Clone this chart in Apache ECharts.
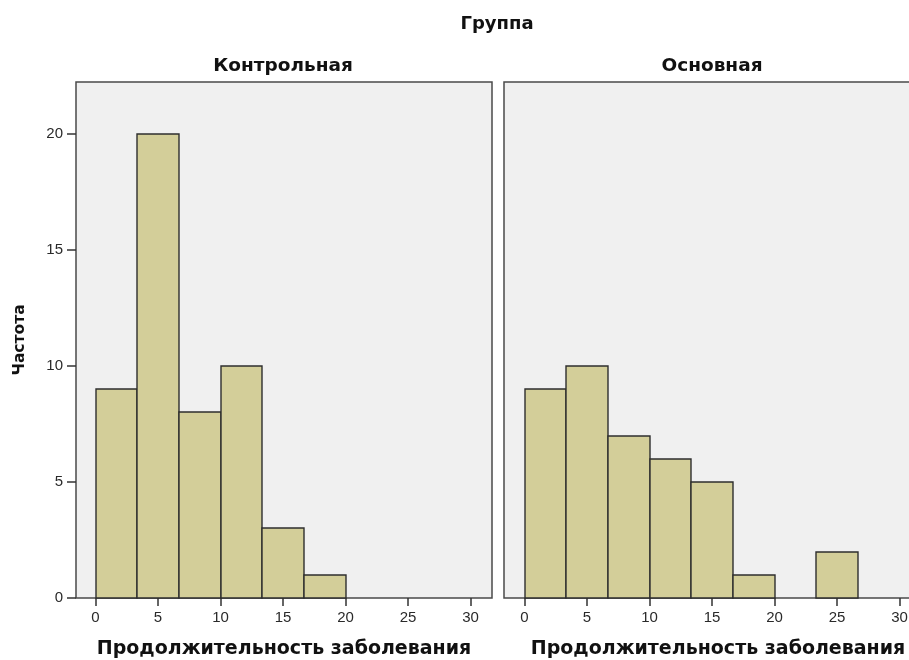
<!DOCTYPE html>
<html>
<head>
<meta charset="utf-8">
<script src="https://cdn.jsdelivr.net/npm/echarts@6/dist/echarts.min.js"></script>
<style>
  html, body { margin: 0; padding: 0; background: #ffffff; }
  #chart { width: 909px; height: 660px; }
</style>
</head>
<body>
<div id="chart"></div>
<script>
// Histogram bins of illness duration (days), shared by both groups
const binStart = [0, 3.33, 6.67, 10, 13.33, 16.67, 20, 23.33];
const binEnd   = [3.33, 6.67, 10, 13.33, 16.67, 20, 23.33, 26.67];

// Frequencies per bin
const controlCounts = [9, 20, 8, 10, 3, 1, 0, 0];
const mainCounts    = [9, 10, 7, 6, 5, 1, 0, 2];

const groupNames = ['Контрольная', 'Основная'];
const xTicks = [0, 5, 10, 15, 20, 25, 30];
const yTicks = [0, 5, 10, 15, 20];

const FONT = 'DejaVu Sans';
const LABEL_FONT = 'Liberation Sans';
const BAR_FILL = '#d3ce99';
const BAR_EDGE = '#2e2e2e';
const FRAME = '#4a4a4a';
const PANEL_BG = '#f0f0f0';

function binData(counts) {
  const out = [];
  for (let i = 0; i < counts.length; i++) {
    if (counts[i] > 0) out.push([binStart[i], binEnd[i], counts[i]]);
  }
  return out;
}

function renderBin(params, api) {
  const a = api.coord([api.value(0), 0]);
  const b = api.coord([api.value(1), api.value(2)]);
  const x = Math.round(a[0]);
  const y = Math.round(b[1]);
  const w = Math.round(b[0]) - Math.round(a[0]);
  const h = Math.round(a[1]) - Math.round(b[1]);
  return {
    type: 'rect',
    shape: { x: x, y: y, width: w, height: h },
    style: { fill: BAR_FILL, stroke: BAR_EDGE, lineWidth: 1.4 }
  };
}

const grids = [
  { left: 76, top: 82, width: 416, height: 516 },
  { left: 504, top: 82, width: 416, height: 516 }
].map(g => Object.assign(g, {
  show: true, backgroundColor: PANEL_BG, borderColor: FRAME, borderWidth: 1.5,
  containLabel: false, outerBoundsMode: 'none'
}));

const xRanges = [[-1.56, 31.72], [-1.64, 31.64]];

const xAxes = xRanges.map((r, i) => ({
  type: 'value',
  gridIndex: i,
  min: r[0],
  max: r[1],
  name: 'Продолжительность заболевания',
  nameLocation: 'middle',
  nameGap: 42,
  nameTextStyle: {
    fontFamily: FONT, fontWeight: 'bold', fontSize: 19, color: '#111',
    padding: i === 1 ? [0, 0, 0, 12] : 0
  },
  splitLine: { show: false },
  axisLine: { show: false, onZero: false },
  axisTick: {
    show: true, length: 8, customValues: xTicks,
    lineStyle: { color: '#333', width: 1.5 }
  },
  axisLabel: {
    show: true, customValues: xTicks, margin: 12,
    fontFamily: LABEL_FONT, fontSize: 15, color: '#2a2a2a'
  }
}));

const yAxes = [0, 1].map(i => ({
  type: 'value',
  gridIndex: i,
  min: 0,
  max: 22.24,
  name: i === 0 ? 'Частота' : '',
  nameLocation: 'middle',
  nameGap: 48,
  nameRotate: 90,
  nameTextStyle: { fontFamily: FONT, fontWeight: 'bold', fontSize: 15.5, color: '#111' },
  splitLine: { show: false },
  axisLine: { show: false, onZero: false },
  axisTick: {
    show: i === 0, length: 9, customValues: yTicks,
    lineStyle: { color: '#333', width: 1.5 }
  },
  axisLabel: {
    show: i === 0, customValues: yTicks, margin: 13,
    fontFamily: LABEL_FONT, fontSize: 15, color: '#2a2a2a'
  }
}));

const option = {
  animation: false,
  backgroundColor: '#ffffff',
  grid: grids,
  xAxis: xAxes,
  yAxis: yAxes,
  graphic: [
    { type: 'text', x: 497, y: 24,
      style: { text: 'Группа', fontFamily: FONT, fontWeight: 'bold', fontSize: 18,
               fill: '#111', textAlign: 'center', textVerticalAlign: 'middle' } },
    { type: 'text', x: 283, y: 66,
      style: { text: groupNames[0], fontFamily: FONT, fontWeight: 'bold', fontSize: 18.5,
               fill: '#111', textAlign: 'center', textVerticalAlign: 'middle' } },
    { type: 'text', x: 712, y: 66,
      style: { text: groupNames[1], fontFamily: FONT, fontWeight: 'bold', fontSize: 18.5,
               fill: '#111', textAlign: 'center', textVerticalAlign: 'middle' } }
  ],
  series: [
    { type: 'custom', name: groupNames[0], xAxisIndex: 0, yAxisIndex: 0,
      renderItem: renderBin, encode: { x: [0, 1], y: 2 }, data: binData(controlCounts) },
    { type: 'custom', name: groupNames[1], xAxisIndex: 1, yAxisIndex: 1,
      renderItem: renderBin, encode: { x: [0, 1], y: 2 }, data: binData(mainCounts) }
  ]
};

const chart = echarts.init(document.getElementById('chart'), null, { renderer: 'canvas' });
chart.setOption(option);
</script>
</body>
</html>
